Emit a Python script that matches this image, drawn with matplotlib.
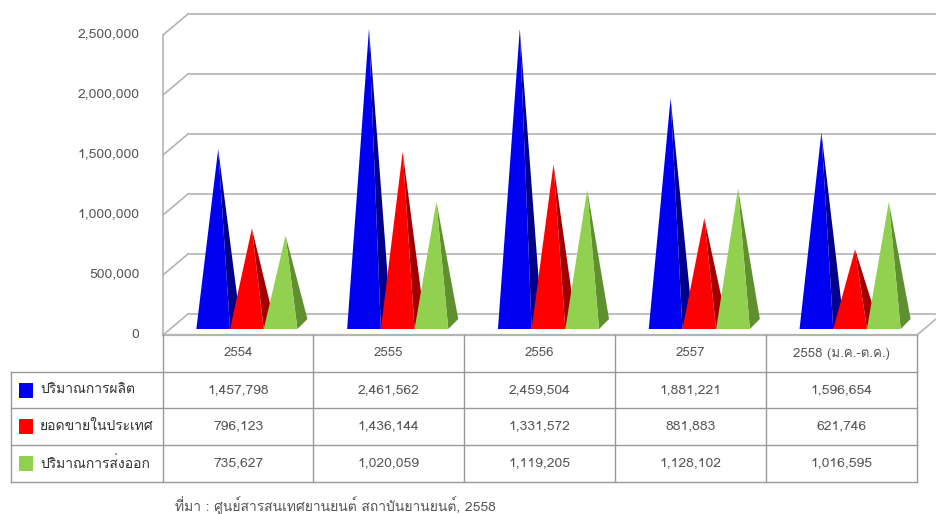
import matplotlib
matplotlib.use('Agg')
import matplotlib.pyplot as plt
from matplotlib.patches import Polygon, Rectangle
from matplotlib.transforms import ScaledTranslation

years = ['2554', '2555', '2556', '2557', '2558 (ม.ค.-ต.ค.)']
series_names = ['ปริมาณการผลิต', 'ยอดขายในประเทศ', 'ปริมาณการส่งออก']
production = [1457798, 2461562, 2459504, 1881221, 1596654]
domestic = [796123, 1436144, 1331572, 881883, 621746]
export = [735627, 1020059, 1119205, 1128102, 1016595]
yticks = [0, 500000, 1000000, 1500000, 2000000, 2500000]
source = 'ที่มา : ศูนย์สารสนเทศยานยนต์ สถาบันยานยนต์, 2558'

plt.rcParams['font.family'] = ['Loma', 'Noto Sans Thai', 'DejaVu Sans']

W, H = 936, 514
fig = plt.figure(figsize=(W / 100, H / 100), dpi=100)
ax = fig.add_axes([163 / W, 1 - 335 / H, (917 - 163) / W, 300 / H])
ax.set_xlim(0, 5)
ax.set_ylim(0, 2500000)
for s in ax.spines.values():
    s.set_visible(False)

# pixel sizes turned into data units
px = 5 / (917 - 163)
py = 2500000 / 300
grid_c = '#b4b4b4'
text_c = '#555555'

# back wall, side wall, floor
for t in yticks:
    ax.plot([0, 25 * px], [t, t + 21 * py], color=grid_c, lw=1.2, clip_on=False, zorder=1)
    ax.plot([25 * px, 5 + 25 * px], [t + 21 * py, t + 21 * py], color=grid_c, lw=1.2,
            clip_on=False, zorder=1)
ax.plot([0, 0], [0, 2500000], color=grid_c, lw=1.2, clip_on=False, zorder=1)
ax.plot([5, 5 + 25 * px], [0, 21 * py], color=grid_c, lw=1.2, clip_on=False, zorder=1)

ax.set_xticks([])
ax.set_yticks(yticks)
ax.set_yticklabels([f'{t:,}' for t in yticks], color=text_c, fontsize=10)
ax.tick_params(axis='y', length=0, pad=17)
for lab in ax.get_yticklabels():
    lab.set_transform(lab.get_transform() + ScaledTranslation(0, 2 / 100, fig.dpi_scale_trans))

colors = ['#0000f0', '#ff0000', '#92d050']
side_colors = ['#00008c', '#a00000', '#5f8f2f']
all_values = [production, domestic, export]
w = 33.7 * px
base = 6 * py
dx = 10 * px
dy = 10 * py
z = 3
for i in range(len(years)):
    left = i + 0.5 + 8.5 * px - 1.5 * w
    for j, vals in enumerate(all_values):
        x0 = left + j * w
        x1 = x0 + w
        apex = (x0 + w / 2 + dx / 2, base + dy / 2 + vals[i])
        ax.add_patch(Polygon([(x1, base), (x1 + dx, base + dy), apex], closed=True,
                             fc=side_colors[j], ec='none', clip_on=False, zorder=z))
        ax.add_patch(Polygon([(x0, base), (x1, base), apex], closed=True,
                             fc=colors[j], ec='none', clip_on=False, zorder=z + 1))
        z += 2

# data table, in image pixels
tb = fig.add_axes([0, 0, 1, 1], facecolor='none')
tb.set_xlim(0, W)
tb.set_ylim(H, 0)
tb.axis('off')
col_x = [163, 313, 464, 615, 766, 917]
row_y = [335, 372, 408, 445, 482]
line_c = '#999999'
tb.plot([163, 917], [335, 335], color=grid_c, lw=1.6)
for y in row_y[1:]:
    tb.plot([11, 917], [y, y], color=line_c, lw=1)
tb.plot([11, 11], [row_y[1], row_y[4]], color=line_c, lw=1)
for x in col_x:
    tb.plot([x, x], [row_y[0], row_y[4]], color=line_c, lw=1)

for i, yr in enumerate(years):
    cx = (col_x[i] + col_x[i + 1]) / 2
    tb.text(cx, (row_y[0] + row_y[1]) / 2, yr, ha='center', va='center', color=text_c, fontsize=9.5)
    for j, vals in enumerate(all_values):
        tb.text(cx, (row_y[j + 1] + row_y[j + 2]) / 2, f'{vals[i]:,}', ha='center', va='center',
                color=text_c, fontsize=10)
for j, name in enumerate(series_names):
    cy = (row_y[j + 1] + row_y[j + 2]) / 2
    tb.add_patch(Rectangle((19, cy - 7.5), 14, 15, fc=colors[j], ec='none'))
    tb.text(40, cy, name, ha='left', va='center', color='#333333', fontsize=10)
tb.text(175, 506, source, ha='left', va='center', color=text_c, fontsize=10)

fig.savefig('out.png', dpi=100)
